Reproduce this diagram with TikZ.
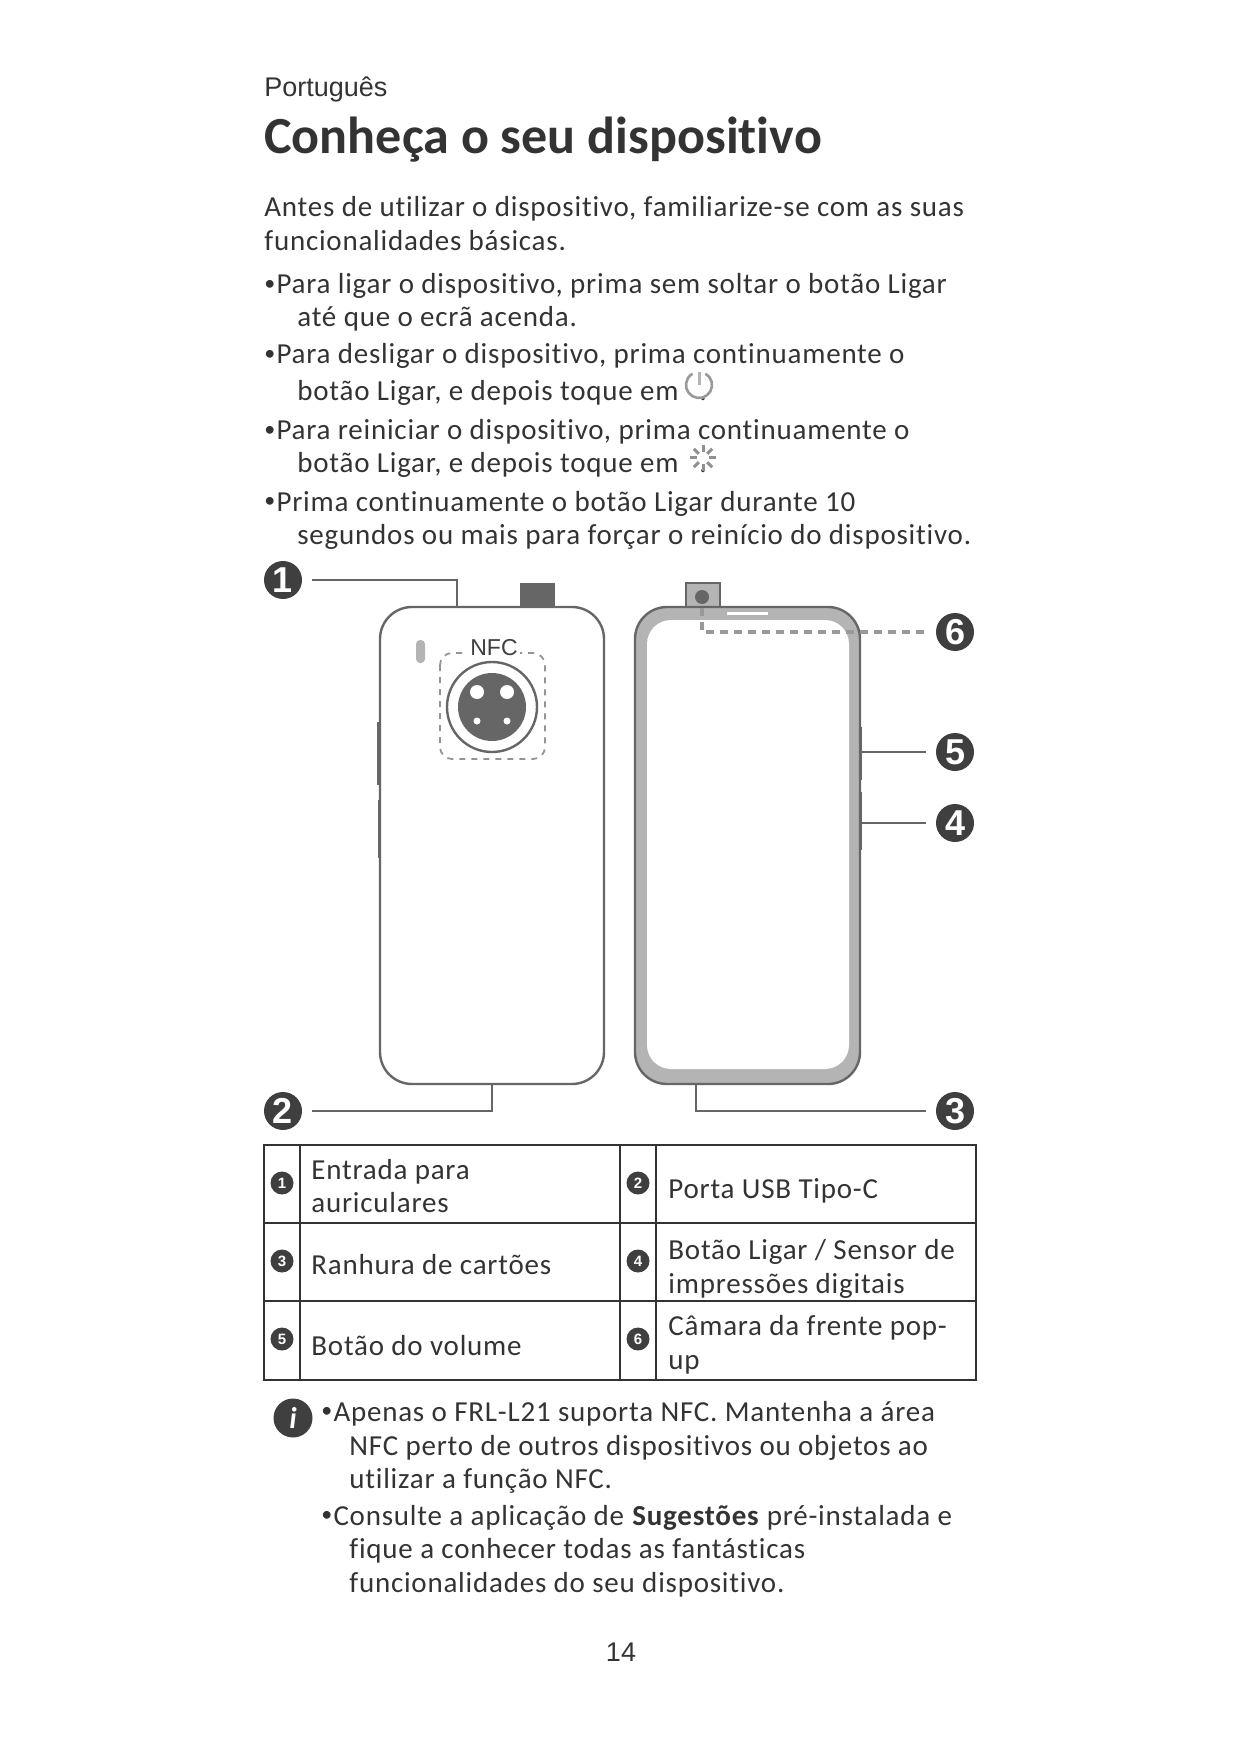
\documentclass[tikz,border=0pt]{standalone}
\usepackage{fontspec}
\setmainfont{Carlito}[LetterSpace=2.7, RawFeature=-liga]
\newfontfamily\titlefont{Carlito}[RawFeature=-liga]
\newfontfamily\labelfont{Liberation Sans}
\definecolor{ink}{HTML}{333333}
\definecolor{shell}{HTML}{666666}
\definecolor{bezel}{HTML}{B4B4B4}
\definecolor{mark}{HTML}{3F3F3F}
\newcommand\bul{\raisebox{.12em}{\fontsize{11}{11}\selectfont•}\hspace{.04em}}
\tikzset{
	txt/.style={anchor=base west, inner sep=0, text=ink, font=\fontsize{14.5}{14.5}\selectfont},
	badge/.style={circle, fill=mark, text=white, inner sep=0, minimum size=19pt, outer sep=5pt, font=\labelfont\bfseries\fontsize{18}{18}\selectfont},
	minibadge/.style={circle, fill=mark, text=white, inner sep=0, minimum size=11.5pt, font=\labelfont\bfseries\fontsize{7.5}{8}\selectfont},
	leader/.style={draw=shell, line width=.9pt},
	body/.style={draw=shell, line width=1.2pt, fill=white, rounded corners=16pt},
}
\begin{document}
\begin{tikzpicture}[x=.5pt, y=-.5pt]
	\useasboundingbox (0,0) rectangle (1241,1754);
	% heading
	\node[anchor=base west, inner sep=0, text=ink, font=\labelfont\fontsize{13.5}{14}\selectfont] (lang) at (264,97) {Português};
	\node[anchor=base west, inner sep=0, text=ink, font=\titlefont\bfseries\fontsize{26.05}{26}\selectfont] (title) at (264,154) {Conheça o seu dispositivo};
	\node[txt] (introA) at (264,217) {Antes de utilizar o dispositivo, familiarize-se com as suas};
	\node[txt] (introB) at (264,251) {funcionalidades básicas.};
	% bullets
	\node[txt] (onA) at (264,294) {\bul Para ligar o dispositivo, prima sem soltar o botão Ligar};
	\node[txt] (onB) at (297,327) {até que o ecrã acenda.};
	\node[txt] (offA) at (264,364) {\bul Para desligar o dispositivo, prima continuamente o};
	\node[txt] (offB) at (297,401) {botão Ligar, e depois toque em};
	\node[txt] (offC) at (699,401) {.};
	\node[txt] (rebootA) at (264,440) {\bul Para reiniciar o dispositivo, prima continuamente o};
	\node[txt] (rebootB) at (297,473) {botão Ligar, e depois toque em};
	\node[txt] (rebootC) at (699,473) {.};
	\node[txt] (forceA) at (264,511) {\bul Prima continuamente o botão Ligar durante 10};
	\node[txt] (forceB) at (297,544) {segundos ou mais para forçar o reinício do dispositivo.};
	% power and restart icons
	\draw[bezel!85!black, line width=1.3pt] (705.5,373.7) arc (-60:240:13);
	\draw[bezel, line width=1.5pt] (699,372) -- (699,385);
	\foreach \a in {0,45,...,315}
		\draw[bezel!80!black, line width=1.5pt] (703,458)+(\a:6) -- +(\a:13);
	% back of the phone
	\draw[shell, line width=1.2pt] (378,722) -- (378,785);
	\draw[shell, line width=1.2pt] (379,800) -- (379,858);
	\fill[shell] (520,583) rectangle (555,608);
	\draw[body] (380,607) rectangle (604,1084);
	\fill[bezel, rounded corners=2pt] (416,640) rectangle (425,663);
	\draw[shell!70, dashed, line width=.9pt, rounded corners=6pt] (440,653) rectangle (545,759);
	\node[inner sep=1pt, fill=white, text=mark, font=\labelfont\fontsize{11.5}{12}\selectfont] (nfc) at (494,648) {NFC};
	\draw[shell, line width=1.2pt] (492,707) circle (45);
	\fill[shell] (492,707) circle (34);
	\fill[white] (477,692) circle (7);
	\fill[white] (507,692) circle (7);
	\fill[white] (477,721) circle (3.5);
	\fill[white] (507,721) circle (3.5);
	% front of the phone
	\draw[shell, line width=1.2pt] (861,727) -- (861,780);
	\draw[shell, line width=1.2pt] (861,792) -- (861,850);
	\draw[shell, line width=1.2pt, fill=bezel] (686,583) rectangle (720,608);
	\fill[shell] (702,597) circle (7);
	\draw[shell, line width=1.2pt, fill=bezel, rounded corners=16pt] (635,607) rectangle (860,1084);
	\fill[white, rounded corners=12pt] (647,620) rectangle (849,1069);
	\fill[white] (727,612) rectangle (768,615);
	% callouts
	\node[badge] (badgeA) at (283,580) {1};
	\node[badge] (badgeB) at (283,1111) {2};
	\node[badge] (badgeC) at (955,1111) {3};
	\node[badge] (badgeD) at (955,823) {4};
	\node[badge] (badgeE) at (955,752) {5};
	\node[badge] (badgeF) at (955,632) {6};
	\coordinate (jack) at (457,607);
	\coordinate (usb) at (492,1085);
	\coordinate (tray) at (696,1085);
	\coordinate (power) at (861,823);
	\coordinate (volume) at (861,752);
	\coordinate (lens) at (702,608);
	\draw[leader] (badgeA) -| (jack);
	\draw[leader] (badgeB) -| (usb);
	\draw[leader] (tray) |- (badgeC);
	\draw[leader] (power) -- (badgeD);
	\draw[leader] (volume) -- (badgeE);
	\draw[draw=bezel!85!black, line width=1.7pt, dash pattern=on 4pt off 3pt] (lens) |- (badgeF);
	% table
	\draw[ink, line width=1.2pt] (264,1145) rectangle (976,1380);
	\foreach \y in {1223,1301}
		\draw[ink, line width=1.2pt] (264,\y) -- (976,\y);
	\foreach \x in {300,620,656}
		\draw[ink, line width=1.2pt] (\x,1145) -- (\x,1380);
	\node[minibadge] (keyA) at (282,1183) {1};
	\node[minibadge] (keyB) at (638,1183) {2};
	\node[minibadge] (keyC) at (282,1261) {3};
	\node[minibadge] (keyD) at (638,1261) {4};
	\node[minibadge] (keyE) at (282,1339) {5};
	\node[minibadge] (keyF) at (638,1339) {6};
	\node[txt] (jackA) at (311,1179) {Entrada para};
	\node[txt] (jackB) at (311,1212) {auriculares};
	\node[txt] (usbA) at (668,1198) {Porta USB Tipo-C};
	\node[txt] (trayA) at (311,1274) {Ranhura de cartões};
	\node[txt] (powerA) at (668,1259) {Botão Ligar / Sensor de};
	\node[txt] (powerB) at (668,1293) {impressões digitais};
	\node[txt] (volumeA) at (311,1355) {Botão do volume};
	\node[txt] (lensA) at (668,1335) {Câmara da frente pop-};
	\node[txt] (lensB) at (668,1369) {up};
	% notes
	\node[circle, fill=mark, text=white, inner sep=0, minimum size=19.5pt, font=\titlefont\bfseries\itshape\fontsize{15}{15}\selectfont] (info) at (293,1418) {i};
	\node[txt] (nfcA) at (321,1421) {\bul Apenas o FRL-L21 suporta NFC. Mantenha a área};
	\node[txt] (nfcB) at (349,1455) {NFC perto de outros dispositivos ou objetos ao};
	\node[txt] (nfcC) at (349,1488) {utilizar a função NFC.};
	\node[txt] (tipsA) at (321,1525) {\bul Consulte a aplicação de \textbf{Sugestões} pré-instalada e};
	\node[txt] (tipsB) at (349,1558) {fique a conhecer todas as fantásticas};
	\node[txt] (tipsC) at (349,1592) {funcionalidades do seu dispositivo.};
	\node[text=ink, font=\labelfont\fontsize{13.5}{14}\selectfont] (page) at (621,1652) {14};
\end{tikzpicture}
\end{document}
